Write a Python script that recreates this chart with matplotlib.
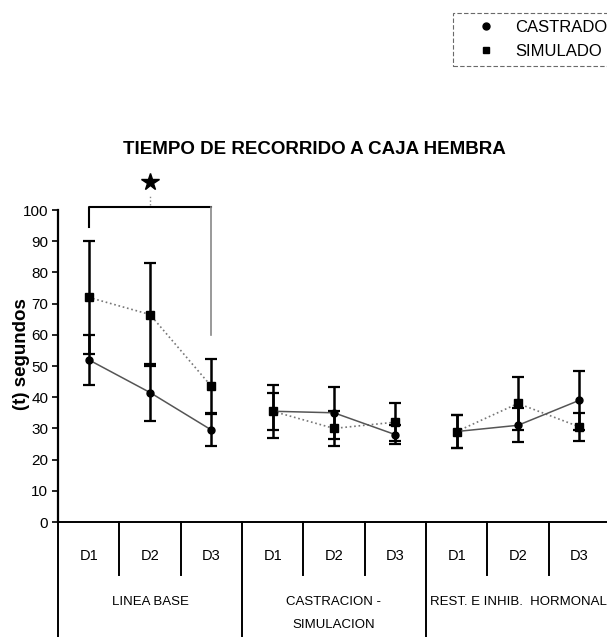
import numpy as np
import matplotlib
matplotlib.use("Agg")
import matplotlib.pyplot as plt
from matplotlib.lines import Line2D

plt.rcParams['font.family'] = ['Liberation Sans', 'DejaVu Sans']

# Datos (segundos)
dias = ['D1', 'D2', 'D3', 'D1', 'D2', 'D3', 'D1', 'D2', 'D3']
fases = ['LINEA BASE', 'CASTRACION -\nSIMULACION', 'REST. E INHIB.  HORMONAL']
castrado_media = [52, 41.5, 29.5, 35.5, 35, 28, 29, 31, 39]
castrado_err = [8, 9, 5, 6, 8.3, 3, 5.3, 5.5, 9.5]
simulado_media = [72, 66.5, 43.5, 35.5, 30, 32, 29, 38, 30.5]
simulado_err = [18, 16.5, 8.7, 8.5, 5.5, 6, 5.3, 8.5, 4.5]
yticks = list(range(0, 101, 10))

W, H = 607, 637
fig = plt.figure(figsize=(W / 100, H / 100), dpi=100)

# ejes: x -0.5..8.5 -> px 58..610 ; y 0..100 -> px 522..210
ax = fig.add_axes([58 / W, 1 - 522 / H, 552 / W, 312 / H])
x = np.arange(len(dias))


def fy(ypx):
    # pixel vertical -> fraccion de ejes
    return (522 - ypx) / 312


# una serie por fase, sin unir entre fases
for g in range(3):
    s = slice(3 * g, 3 * g + 3)
    ax.errorbar(x[s], simulado_media[s], yerr=simulado_err[s], fmt='none',
                ecolor='black', elinewidth=1.8, capsize=4, capthick=1.6, zorder=3)
    ax.errorbar(x[s], castrado_media[s], yerr=castrado_err[s], fmt='none',
                ecolor='black', elinewidth=1.8, capsize=4, capthick=1.6, zorder=3)
    ax.plot(x[s], simulado_media[s], linestyle=':', color='#777777', linewidth=1.2,
            marker='s', markersize=6, markerfacecolor='black', markeredgecolor='black', zorder=4)
    ax.plot(x[s], castrado_media[s], linestyle='-', color='#555555', linewidth=1.1,
            marker='o', markersize=5, markerfacecolor='black', markeredgecolor='black', zorder=4)

# corchete de significancia sobre LINEA BASE
ax.plot([0, 0, 2], [94.5, 101, 101], color='black', linewidth=1.5, clip_on=False)
ax.plot([2, 2], [101, 60], color='#888888', linewidth=1.2, clip_on=False)
ax.plot([1, 1], [101.5, 105], color='#888888', linewidth=1, linestyle=':', clip_on=False)
ax.plot([1], [109], marker='*', markersize=13, color='black', clip_on=False)

ax.set_xlim(-0.5, 8.5)
ax.set_ylim(0, 100)
ax.set_yticks(yticks)
ax.tick_params(axis='y', direction='out', length=4, width=1.2, labelsize=11, pad=3)
ax.set_xticks([])
for sp in ['top', 'right']:
    ax.spines[sp].set_visible(False)
ax.spines['left'].set_linewidth(1.6)
ax.spines['bottom'].set_linewidth(1.4)

# tabla de categorias bajo el eje
tr = ax.get_xaxis_transform()
for xv in [0.5, 1.5, 3.5, 4.5, 6.5, 7.5]:
    ax.plot([xv, xv], [0, fy(575)], color='black', linewidth=1.4, transform=tr, clip_on=False)
for xv in [-0.5, 2.5, 5.5, 8.5]:
    ax.plot([xv, xv], [0, fy(645)], color='black', linewidth=1.4, transform=tr, clip_on=False)
for i, d in enumerate(dias):
    ax.text(i, fy(556), d, transform=tr, ha='center', va='center', fontsize=10.5)
for g, f in enumerate(fases):
    ax.text(3 * g + 1, fy(596), f, transform=tr, ha='center', va='top', fontsize=9.5,
            linespacing=2.2)

fig.text(314 / W, 1 - 150 / H, 'TIEMPO DE RECORRIDO A CAJA HEMBRA',
         ha='center', va='center', fontsize=13.5, fontweight='bold')
fig.text(22 / W, 1 - 354 / H, '(t) segundos', rotation=90, ha='center', va='center',
         fontsize=13.5, fontweight='bold')

handles = [Line2D([], [], linestyle='none', marker='o', markersize=5, color='black'),
           Line2D([], [], linestyle='none', marker='s', markersize=5, color='black')]
leg = fig.legend(handles, ['CASTRADO', 'SIMULADO'], loc='upper left',
                 bbox_to_anchor=(453 / W, 1 - 13 / H), borderaxespad=0, frameon=True,
                 fancybox=False, edgecolor='#444444', prop={'size': 12},
                 handletextpad=0.25, borderpad=0.4, labelspacing=0.55, handlelength=3.1)
leg.get_frame().set_linewidth(0.8)
leg.get_frame().set_linestyle((0, (4, 2)))

fig.savefig('out.png', dpi=100)
